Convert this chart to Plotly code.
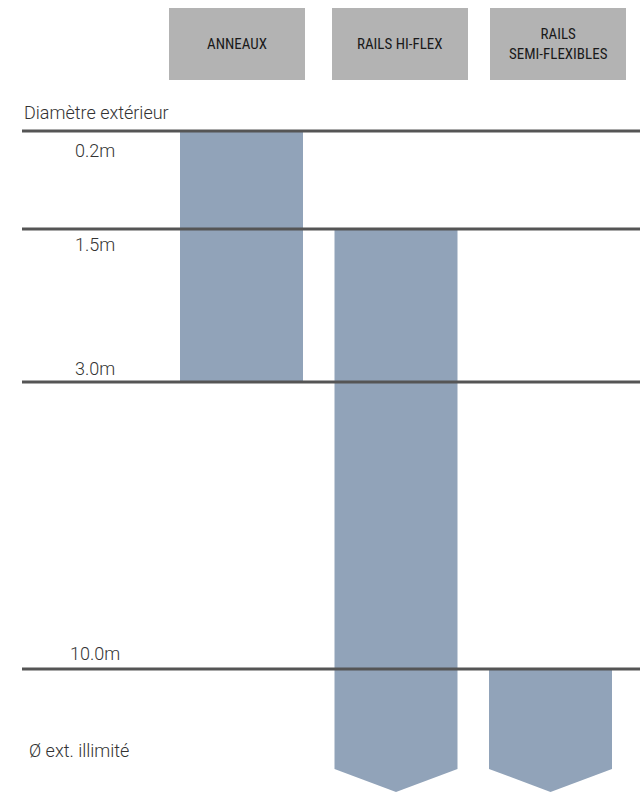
import plotly.graph_objects as go

# data
products = ["ANNEAUX", "RAILS HI-FLEX", "RAILS<br>SEMI-FLEXIBLES"]
thresholds = ["0.2m", "1.5m", "3.0m", "10.0m"]
range_start = ["0.2m", "1.5m", "10.0m"]
range_end = ["3.0m", "illimité", "illimité"]
axis_title = "Diamètre extérieur"
unlimited_label = "Ø ext. illimité"

# layout scale: where each diameter level sits on the (pixel-like) vertical axis
level_pos = {"0.2m": 131, "1.5m": 229, "3.0m": 382, "10.0m": 669, "illimité": 769}
label_offset = {"0.2m": 19, "1.5m": 15, "3.0m": -14, "10.0m": -16}
bar_centers = [241.5, 396, 550.5]
head_centers = [237, 400, 558]
bar_half = 61.5
head_half = 68
tip = 23

BAR_COLOR = "#91a3b9"
HEAD_COLOR = "#b3b3b3"
LINE_COLOR = "#555555"
TEXT_COLOR = "#333333"
LABEL_FONT = dict(family="Roboto", size=18, color=TEXT_COLOR, weight=300)

fig = go.Figure()

# range bars
for name, start, end, xc in zip(products, range_start, range_end, bar_centers):
    y0 = level_pos[start]
    y1 = level_pos[end]
    x0, x1 = xc - bar_half, xc + bar_half
    if end == "illimité":
        xs = [x0, x1, x1, xc, x0, x0]
        ys = [y0, y0, y1, y1 + tip, y1, y0]
    else:
        xs = [x0, x1, x1, x0, x0]
        ys = [y0, y0, y1, y1, y0]
    fig.add_trace(go.Scatter(
        x=xs, y=ys, mode='lines', fill='toself', fillcolor=BAR_COLOR,
        line=dict(width=0, color=BAR_COLOR), name=name.replace("<br>", " "),
        hoverinfo='skip'
    ))

# threshold lines (drawn on top of the bars)
for t in thresholds:
    fig.add_trace(go.Scatter(
        x=[22, 640], y=[level_pos[t], level_pos[t]], mode='lines',
        line=dict(color=LINE_COLOR, width=3), hoverinfo='skip'
    ))
    fig.add_annotation(
        x=95, y=level_pos[t] + label_offset[t], text=t,
        showarrow=False, xanchor='center', yanchor='middle', font=LABEL_FONT
    )

# header boxes
for name, xc in zip(products, head_centers):
    fig.add_shape(type='rect', x0=xc - head_half, x1=xc + head_half, y0=8, y1=80,
                  fillcolor=HEAD_COLOR, line=dict(width=0), layer='below')
    fig.add_annotation(
        x=xc, y=44, text=name, showarrow=False, xanchor='center', yanchor='middle',
        font=dict(family="Liberation Sans Narrow, Roboto Condensed, Roboto",
                  size=15, color="#1a1a1a", weight=400)
    )

fig.add_annotation(x=22, y=112, text=axis_title, showarrow=False, xanchor='left',
                   yanchor='middle', font=LABEL_FONT)
fig.add_annotation(x=27, y=750, text=unlimited_label, showarrow=False, xanchor='left',
                   yanchor='middle', font=LABEL_FONT)

fig.update_layout(
    width=640, height=792,
    margin=dict(l=0, r=0, t=0, b=0),
    paper_bgcolor='white', plot_bgcolor='white',
    showlegend=False,
    xaxis=dict(range=[0, 640], visible=False, fixedrange=True),
    yaxis=dict(range=[792, 0], visible=False, fixedrange=True),
)

# drop the default page margin so the figure fills the window exactly
fig.write_html("out.html", config=dict(displayModeBar=False),
               post_script="document.body.style.margin='0';"
                           "document.body.style.overflow='hidden';")
